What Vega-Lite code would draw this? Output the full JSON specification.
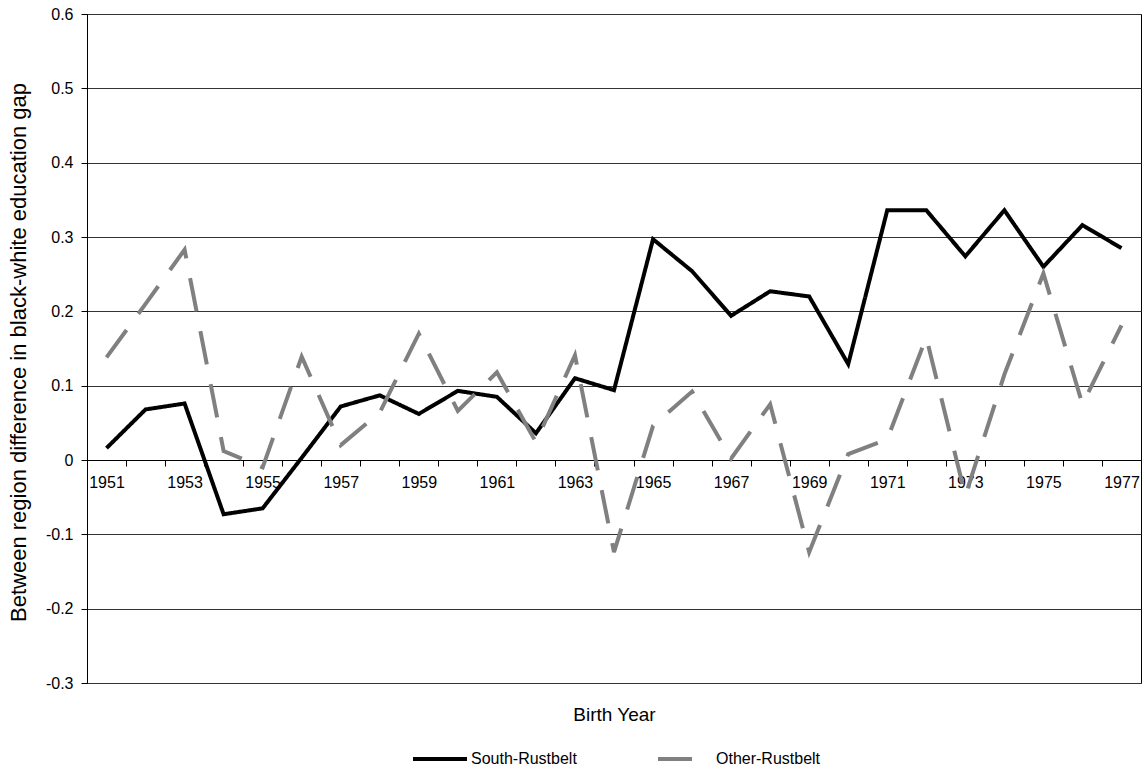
{
  "$schema": "https://vega.github.io/schema/vega-lite/v6.json",
  "width": 1054,
  "height": 669,
  "autosize": {"type": "none"},
  "padding": {"left": 87, "top": 14, "right": 5, "bottom": 88},
  "background": "white",
  "config": {
    "font": "Liberation Sans",
    "view": {"stroke": "#000", "strokeWidth": 1},
    "axis": {"labelFont": "Liberation Sans", "titleFont": "Liberation Sans", "titleFontWeight": "normal", "labelColor": "#000", "titleColor": "#000"},
    "legend": {"labelFont": "Liberation Sans"}
  },
  "data": {
    "values": [
      {"year": 1951, "series": "South-Rustbelt", "value": 0.016},
      {"year": 1952, "series": "South-Rustbelt", "value": 0.068},
      {"year": 1953, "series": "South-Rustbelt", "value": 0.076},
      {"year": 1954, "series": "South-Rustbelt", "value": -0.073},
      {"year": 1955, "series": "South-Rustbelt", "value": -0.065},
      {"year": 1956, "series": "South-Rustbelt", "value": 0.003},
      {"year": 1957, "series": "South-Rustbelt", "value": 0.072},
      {"year": 1958, "series": "South-Rustbelt", "value": 0.087},
      {"year": 1959, "series": "South-Rustbelt", "value": 0.062},
      {"year": 1960, "series": "South-Rustbelt", "value": 0.093},
      {"year": 1961, "series": "South-Rustbelt", "value": 0.085},
      {"year": 1962, "series": "South-Rustbelt", "value": 0.036},
      {"year": 1963, "series": "South-Rustbelt", "value": 0.110},
      {"year": 1964, "series": "South-Rustbelt", "value": 0.094},
      {"year": 1965, "series": "South-Rustbelt", "value": 0.297},
      {"year": 1966, "series": "South-Rustbelt", "value": 0.254},
      {"year": 1967, "series": "South-Rustbelt", "value": 0.194},
      {"year": 1968, "series": "South-Rustbelt", "value": 0.227},
      {"year": 1969, "series": "South-Rustbelt", "value": 0.220},
      {"year": 1970, "series": "South-Rustbelt", "value": 0.129},
      {"year": 1971, "series": "South-Rustbelt", "value": 0.336},
      {"year": 1972, "series": "South-Rustbelt", "value": 0.336},
      {"year": 1973, "series": "South-Rustbelt", "value": 0.274},
      {"year": 1974, "series": "South-Rustbelt", "value": 0.336},
      {"year": 1975, "series": "South-Rustbelt", "value": 0.260},
      {"year": 1976, "series": "South-Rustbelt", "value": 0.316},
      {"year": 1977, "series": "South-Rustbelt", "value": 0.285},
      {"year": 1951, "series": "Other-Rustbelt", "value": 0.138},
      {"year": 1952, "series": "Other-Rustbelt", "value": 0.210},
      {"year": 1953, "series": "Other-Rustbelt", "value": 0.283},
      {"year": 1954, "series": "Other-Rustbelt", "value": 0.012},
      {"year": 1955, "series": "Other-Rustbelt", "value": -0.010},
      {"year": 1956, "series": "Other-Rustbelt", "value": 0.139},
      {"year": 1957, "series": "Other-Rustbelt", "value": 0.020},
      {"year": 1958, "series": "Other-Rustbelt", "value": 0.064},
      {"year": 1959, "series": "Other-Rustbelt", "value": 0.170},
      {"year": 1960, "series": "Other-Rustbelt", "value": 0.066},
      {"year": 1961, "series": "Other-Rustbelt", "value": 0.118},
      {"year": 1962, "series": "Other-Rustbelt", "value": 0.024},
      {"year": 1963, "series": "Other-Rustbelt", "value": 0.141},
      {"year": 1964, "series": "Other-Rustbelt", "value": -0.124},
      {"year": 1965, "series": "Other-Rustbelt", "value": 0.046},
      {"year": 1966, "series": "Other-Rustbelt", "value": 0.092},
      {"year": 1967, "series": "Other-Rustbelt", "value": 0.002},
      {"year": 1968, "series": "Other-Rustbelt", "value": 0.075},
      {"year": 1969, "series": "Other-Rustbelt", "value": -0.124},
      {"year": 1970, "series": "Other-Rustbelt", "value": 0.008},
      {"year": 1971, "series": "Other-Rustbelt", "value": 0.028},
      {"year": 1972, "series": "Other-Rustbelt", "value": 0.165},
      {"year": 1973, "series": "Other-Rustbelt", "value": -0.048},
      {"year": 1974, "series": "Other-Rustbelt", "value": 0.115},
      {"year": 1975, "series": "Other-Rustbelt", "value": 0.251},
      {"year": 1976, "series": "Other-Rustbelt", "value": 0.075},
      {"year": 1977, "series": "Other-Rustbelt", "value": 0.181}
    ]
  },
  "mark": {"type": "line", "strokeWidth": 4, "strokeJoin": "miter", "strokeCap": "butt"},
  "encoding": {
    "x": {
      "field": "year",
      "type": "ordinal",
      "bandPosition": 0.5,
      "scale": {"type": "band", "paddingInner": 0, "paddingOuter": 0},
      "axis": {
        "offset": -223,
        "tickBand": "extent",
        "labelExpr": "datum.value % 2 == 1 ? datum.label : ''",
        "labelOverlap": false,
        "labelAngle": 0,
        "labelFontSize": 16,
        "labelPadding": 8,
        "tickSize": 6,
        "tickColor": "#000",
        "domainColor": "#000",
        "grid": false,
        "title": "Birth Year",
        "titleFontSize": 19,
        "titleBaseline": "alphabetic",
        "titleY": 260
      }
    },
    "y": {
      "field": "value",
      "type": "quantitative",
      "scale": {"domain": [-0.3, 0.6], "nice": false, "zero": false},
      "axis": {
        "values": [-0.3, -0.2, -0.1, 0, 0.1, 0.2, 0.3, 0.4, 0.5, 0.6],
        "labelExpr": "replace(format(datum.value, '.1~f'), '−', '-')",
        "labelFontSize": 16,
        "labelPadding": 8,
        "tickSize": 6,
        "tickColor": "#000",
        "domainColor": "#000",
        "grid": true,
        "gridColor": "#333",
        "gridWidth": 1,
        "title": "Between region difference in black-white education gap",
        "titleFontSize": 22,
        "titleX": -69,
        "titleY": 338,
        "titleBaseline": "middle"
      }
    },
    "color": {
      "field": "series",
      "type": "nominal",
      "scale": {"domain": ["South-Rustbelt", "Other-Rustbelt"], "range": ["#000000", "#808080"]},
      "legend": {
        "orient": "none",
        "legendX": 324,
        "legendY": 716,
        "direction": "horizontal",
        "columnPadding": 73,
        "title": null,
        "symbolType": "stroke",
        "symbolSize": 2916,
        "symbolStrokeWidth": 4,
        "labelFontSize": 16,
        "labelOffset": 2,
        "labelColor": "#000",
        "labelLimit": 300
      }
    },
    "strokeDash": {
      "field": "series",
      "type": "nominal",
      "scale": {"domain": ["South-Rustbelt", "Other-Rustbelt"], "range": [[1, 0], [34, 20]]},
      "legend": {
        "orient": "none",
        "legendX": 324,
        "legendY": 716,
        "direction": "horizontal",
        "columnPadding": 73,
        "title": null,
        "symbolType": "stroke",
        "symbolSize": 2916,
        "symbolStrokeWidth": 4,
        "labelFontSize": 16,
        "labelOffset": 2,
        "labelColor": "#000",
        "labelLimit": 300
      }
    }
  }
}
